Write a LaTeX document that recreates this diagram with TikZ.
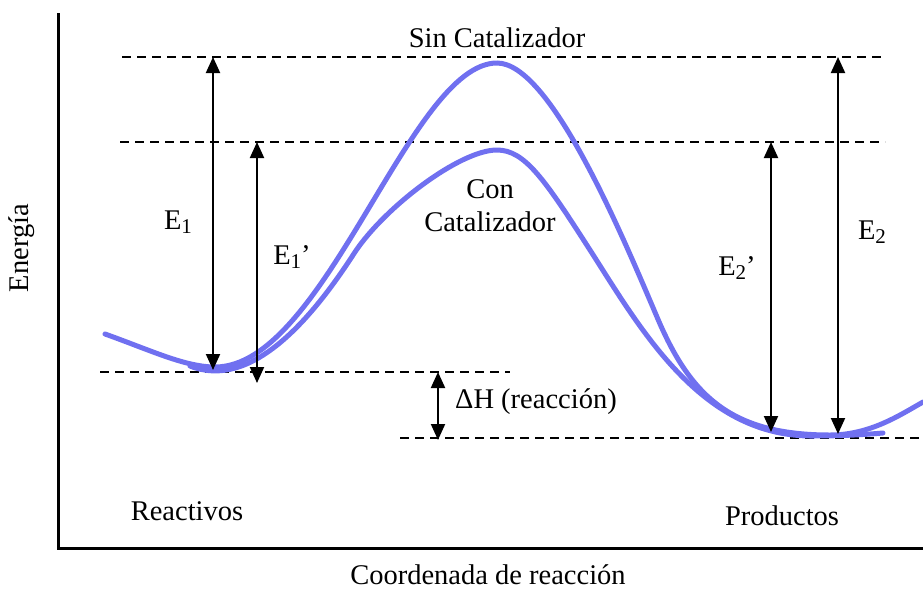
\documentclass[tikz,border=0pt]{standalone}
\usepackage{fontspec}
\setmainfont{Liberation Serif}
\usetikzlibrary{arrows.meta}
\definecolor{azulcurva}{RGB}{112,112,240}
\newcommand{\subind}[1]{\raisebox{-0.3ex}{\fontsize{21}{21}\selectfont #1}}
\begin{document}
\begin{tikzpicture}[x=1pt, y=-1pt,
    lbl/.style={font=\fontsize{28.5}{32}\selectfont, inner sep=0pt},
    nivel/.style={dash pattern=on 9pt off 6pt, line width=1.5pt},
    flecha/.style={{Triangle[length=16pt,width=14pt]}-{Triangle[length=16pt,width=14pt]}, line width=2pt},
    curva/.style={color=azulcurva, line width=5pt, line cap=round}]
    \useasboundingbox (0,0) rectangle (923,590);

    % ejes
    \draw[line width=3pt] (58,13) -- (58,548) -- (923,548);

    % niveles de energia
    \draw[nivel] (122,57) -- (885,57);
    \draw[nivel] (120,142) -- (885,142);
    \draw[nivel] (100,372) -- (510,372);
    \draw[nivel] (400,438) -- (923,438);

    % sin catalizador
    \draw[curva] (105,334) .. controls (150,350) and (185,367) .. (215,367)
        .. controls (325,367) and (410,63) .. (497,63)
        .. controls (550,63) and (620,230) .. (657,317)
        .. controls (690,395) and (730,435) .. (830,435)
        .. controls (870,435) and (900,415) .. (923,402);
    % con catalizador
    \draw[curva] (190,366) .. controls (250,390) and (310,322) .. (355,252)
        .. controls (385,207) and (460,150) .. (497,150)
        .. controls (525,150) and (545,180) .. (590,250)
        .. controls (640,328) and (700,435) .. (810,436)
        .. controls (850,436) and (870,434) .. (883,433);

    % flechas
    \coordinate (e1a) at (213,57);
    \coordinate (e1b) at (213,370);
    \coordinate (e1pa) at (257,142);
    \coordinate (e1pb) at (257,383);
    \coordinate (dha) at (438,372);
    \coordinate (dhb) at (438,440);
    \coordinate (e2pa) at (771,142);
    \coordinate (e2pb) at (771,432);
    \coordinate (e2a) at (838,57);
    \coordinate (e2b) at (838,434);
    \draw[flecha] (e1a) -- (e1b);
    \draw[flecha] (e1pa) -- (e1pb);
    \draw[flecha] (dha) -- (dhb);
    \draw[flecha] (e2pa) -- (e2pb);
    \draw[flecha] (e2a) -- (e2b);

    % textos
    \node[lbl] (sin) at (497,38) {Sin Catalizador};
    \node[lbl, align=center, font=\fontsize{28.5}{33}\selectfont] (con) at (490,206) {Con\\Catalizador};
    \node[lbl] (e1) at (178,222) {E\subind{1}};
    \node[lbl] (e1p) at (292,257) {E\subind{1}’};
    \node[lbl] (e2p) at (737,268) {E\subind{2}’};
    \node[lbl] (e2) at (872,232) {E\subind{2}};
    \node[lbl, anchor=west] (dh) at (455,402) {ΔH (reacción)};
    \node[lbl] (reac) at (187,511) {Reactivos};
    \node[lbl] (prod) at (782,516) {Productos};
    \node[lbl] (coord) at (488,575) {Coordenada de reacción};
    \node[lbl, rotate=90] (ener) at (22,248) {Energía};
\end{tikzpicture}
\end{document}
